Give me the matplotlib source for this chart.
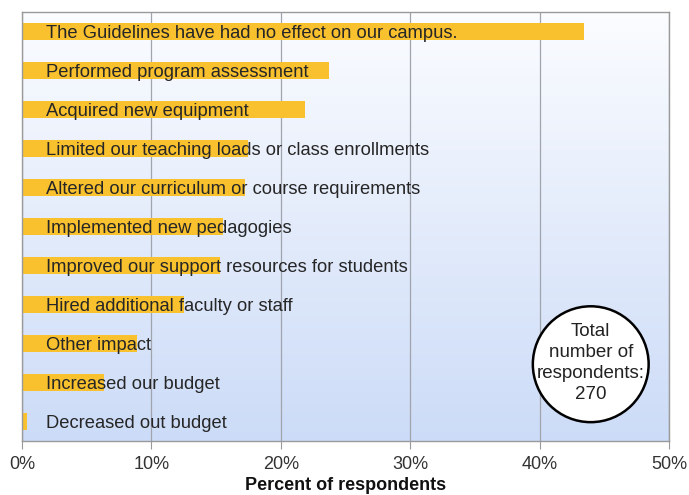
import numpy as np
import matplotlib
matplotlib.use('AGG')
import matplotlib.pyplot as plt
from matplotlib.patches import Ellipse

# Survey responses, top to bottom
categories = [
    "The Guidelines have had no effect on our campus.",
    "Performed program assessment",
    "Acquired new equipment",
    "Limited our teaching loads or class enrollments",
    "Altered our curriculum or course requirements",
    "Implemented new pedagogies",
    "Improved our support resources for students",
    "Hired additional faculty or staff",
    "Other impact",
    "Increased our budget",
    "Decreased out budget",
]
percents = [43.4, 23.7, 21.9, 17.5, 17.2, 15.5, 15.3, 12.5, 8.9, 6.3, 0.4]
x_ticks = [0, 10, 20, 30, 40, 50]
x_tick_labels = ["0%", "10%", "20%", "30%", "40%", "50%"]
total_respondents = 270

plt.rcParams['font.family'] = ['Liberation Sans', 'DejaVu Sans']

fig = plt.figure(figsize=(6.89, 4.95), dpi=100)
ax = fig.add_axes([0.032, 0.109, 0.939, 0.867])

# Background gradient: near white at top, light blue at bottom
grad = np.linspace(0, 1, 256)[:, None, None]
top = np.array([0.985, 0.99, 1.0])
bottom = np.array([0.80, 0.86, 0.97])
img = top + (bottom - top) * grad
ax.imshow(img, extent=[0, 1, 0, 1], transform=ax.transAxes, aspect='auto',
          zorder=0, origin='upper')

y = np.arange(len(categories))
ax.barh(y, percents, height=0.42, color='#F9C12E', zorder=2)

# Labels sit inside the bar area, starting a little right of 0
for i, label in enumerate(categories):
    ax.text(1.85, i, label, va='center_baseline', ha='left', fontsize=13.2,
            color='#262626', zorder=3)

ax.set_xlim(0, 50)
ax.set_ylim(10.5, -0.5)
ax.set_xticks(x_ticks)
ax.set_xticklabels(x_tick_labels, fontsize=13, color='#333333')
ax.set_yticks([])
ax.tick_params(axis='x', length=6, color='#999999', pad=5)
ax.xaxis.grid(True, color='#A0A4AC', linewidth=0.9, zorder=1)
ax.set_axisbelow(True)
for s in ax.spines.values():
    s.set_color('#9a9a9a')
    s.set_linewidth(1.0)

ax.set_xlabel("Percent of respondents", fontsize=13, fontweight='bold',
              color='#111111', labelpad=3)

# Circle note with the sample size
ell = Ellipse((0.879, 0.179), 0.179, 0.270, transform=ax.transAxes,
              facecolor='white', edgecolor='black', linewidth=1.8, zorder=4)
ax.add_patch(ell)
ax.text(0.879, 0.182, "Total\nnumber of\nrespondents:\n%d" % total_respondents,
        transform=ax.transAxes, ha='center', va='center', fontsize=13.5,
        color='#222222', linespacing=1.3, zorder=5)

fig.savefig('out.png', dpi=100)
